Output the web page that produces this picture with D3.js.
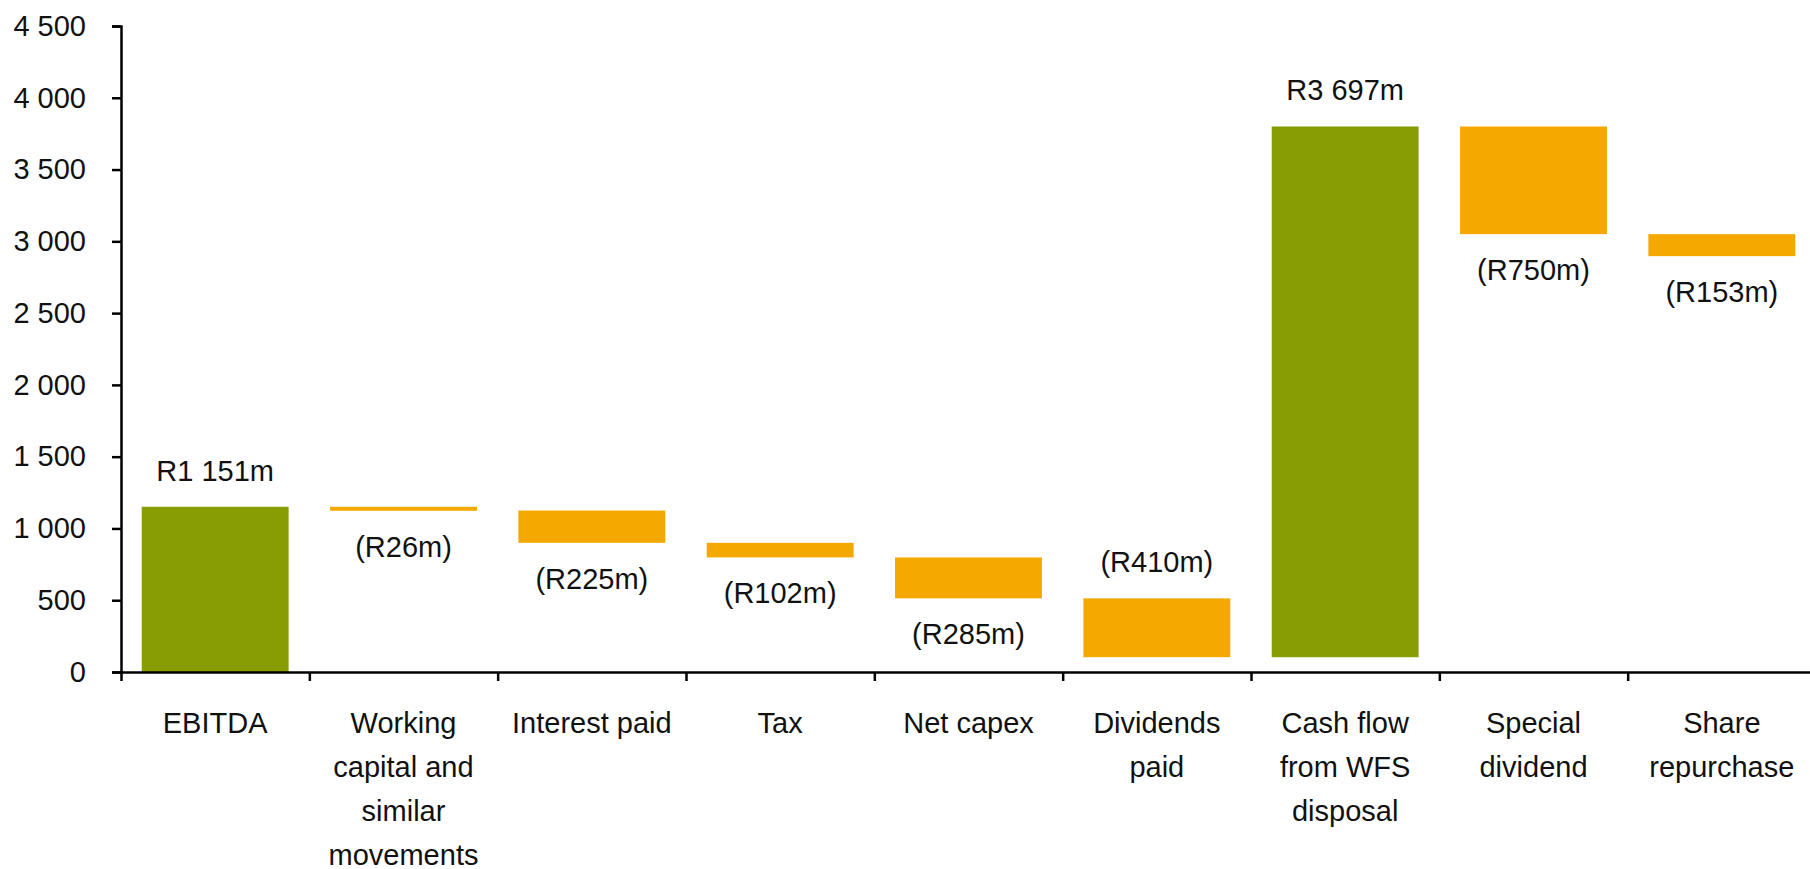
<!DOCTYPE html>
<meta charset="utf-8">
<script src="https://d3js.org/d3.v7.min.js"></script>
<style>
  body { margin: 0; background: #fff; }
  text { font-family: "Liberation Sans", Arial, sans-serif; fill: #111; }
  .axis path, .axis line { stroke: #000; stroke-width: 2.5; }
</style>
<div id="chart"></div>
<script>
  // Data
  var categories = [
    ["EBITDA"],
    ["Working", "capital and", "similar", "movements"],
    ["Interest paid"],
    ["Tax"],
    ["Net capex"],
    ["Dividends", "paid"],
    ["Cash flow", "from WFS", "disposal"],
    ["Special", "dividend"],
    ["Share", "repurchase"]
  ];
  var values = [1151, -26, -225, -102, -285, -410, 3697, -750, -153];
  var isTotal = [true, false, false, false, false, false, true, false, false];
  var labels = ["R1 151m", "(R26m)", "(R225m)", "(R102m)", "(R285m)", "(R410m)", "R3 697m", "(R750m)", "(R153m)"];
  var labelAbove = [true, false, false, false, false, true, true, false, false];
  var yTicks = [0, 500, 1000, 1500, 2000, 2500, 3000, 3500, 4000, 4500];

  var W = 1810, H = 869;
  var mLeft = 121, mRight = 1816, mTop = 26, mBottom = 672;
  var fs = 29;

  var svg = d3.select("#chart").append("svg")
    .attr("width", W).attr("height", H);

  // running totals for the waterfall
  var run = 0;
  var rows = values.map(function (v, i) {
    var s = run, e = run + v;
    run = e;
    return { i: i, start: s, end: e, total: isTotal[i] };
  });

  var x = d3.scaleBand()
    .domain(d3.range(categories.length))
    .range([mLeft, mRight])
    .paddingInner(0.22)
    .paddingOuter(0.11);

  var y = d3.scaleLinear()
    .domain([0, 4500])
    .range([mBottom, mTop]);

  // Bars
  svg.selectAll("rect.bar")
    .data(rows)
    .enter().append("rect")
    .attr("class", "bar")
    .attr("x", function (d) { return x(d.i); })
    .attr("width", x.bandwidth())
    .attr("y", function (d) { return y(Math.max(d.start, d.end)); })
    .attr("height", function (d) { return Math.max(4, Math.abs(y(d.start) - y(d.end))); })
    .attr("fill", function (d) { return d.total ? "#889c04" : "#f5a900"; });

  // Value labels
  svg.selectAll("text.val")
    .data(rows)
    .enter().append("text")
    .attr("class", "val")
    .attr("text-anchor", "middle")
    .attr("font-size", fs)
    .attr("x", function (d) { return x(d.i) + x.bandwidth() / 2; })
    .attr("y", function (d) {
      return labelAbove[d.i] ? y(Math.max(d.start, d.end)) - 26 : y(Math.min(d.start, d.end)) + 46;
    })
    .text(function (d) { return labels[d.i]; });

  // Y axis
  var yAxis = d3.axisLeft(y)
    .tickValues(yTicks)
    .tickSize(9)
    .tickPadding(26)
    .tickFormat(function (d) { return d3.format(",")(d).replace(/,/g, " "); });

  var gy = svg.append("g")
    .attr("class", "axis")
    .attr("transform", "translate(" + mLeft + ",0)")
    .call(yAxis);
  gy.selectAll("text").attr("font-size", fs).attr("fill", "#111").attr("font-family", null);
  gy.attr("font-family", null);

  // X axis (ticks at band boundaries)
  var step = x.step();
  var bounds = d3.range(categories.length + 1).map(function (k) { return mLeft + k * step; });
  var xb = d3.scaleLinear().domain([mLeft, mRight]).range([mLeft, mRight]);
  svg.append("g")
    .attr("class", "axis")
    .attr("transform", "translate(0," + mBottom + ")")
    .call(d3.axisBottom(xb).tickValues(bounds).tickSize(9).tickSizeOuter(0).tickFormat(""));

  // Category labels
  var cl = svg.selectAll("text.cat")
    .data(categories)
    .enter().append("text")
    .attr("class", "cat")
    .attr("text-anchor", "middle")
    .attr("font-size", fs)
    .attr("x", function (d, i) { return x(i) + x.bandwidth() / 2; })
    .attr("y", 733);
  cl.selectAll("tspan")
    .data(function (d) { return d; })
    .enter().append("tspan")
    .attr("x", function () { return d3.select(this.parentNode).attr("x"); })
    .attr("dy", function (d, j) { return j === 0 ? 0 : 44; })
    .text(function (d) { return d; });
</script>
